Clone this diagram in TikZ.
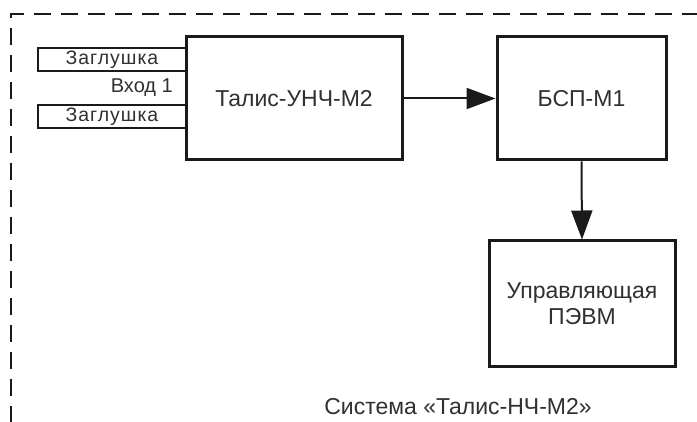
\documentclass[tikz,border=0pt]{standalone}
\usepackage{fontspec}
\setmainfont{Liberation Sans}
\usetikzlibrary{arrows.meta}
\definecolor{txt}{HTML}{303030}
\definecolor{ln}{HTML}{1A1A1A}
\tikzset{
  bigbox/.style={draw=ln, line width=3pt, rectangle, inner sep=0pt, text=txt,
    font=\fontsize{23}{26}\selectfont, align=center},
  plugbox/.style={draw=ln, line width=1.8pt, rectangle, inner sep=0pt, text=txt,
    minimum width=148pt, minimum height=23pt,
    font=\fontsize{19.5}{20}\selectfont\addfontfeature{LetterSpace=5}},
  conn/.style={draw=ln, line width=2pt, -{Triangle[length=29pt,width=21pt]}},
  frame/.style={draw=ln, line width=2pt, dash pattern=on 17pt off 10pt}
}
\begin{document}
\begin{tikzpicture}[x=1pt,y=-1pt]
\useasboundingbox (0,0) rectangle (697,422);
\fill[white] (0,0) rectangle (697,422);
\begin{scope}
\clip (0,0) rectangle (697,422);
\draw[frame] (11,450) -- (11,14) -- (720,14);
\end{scope}
\node[bigbox, minimum width=216pt, minimum height=123pt] (talis) at (294,98.5) {Талис-УНЧ-М2};
\node[bigbox, minimum width=169pt, minimum height=123pt] (bsp) at (581.5,98.5) {БСП-М1};
\node[bigbox, minimum width=186pt, minimum height=126pt] (pevm) at (582,304) {Управляющая\\ПЭВМ};
\node[plugbox] (plugA) at (112,59.5) {Заглушка};
\node[plugbox] (plugB) at (112,116.5) {Заглушка};
\node[text=txt, font=\fontsize{20}{22}\selectfont, anchor=east, inner sep=0pt] (vhod) at (173,88) {Вход 1};
\draw[conn] (talis.east) -- (bsp.west);
\draw[conn] (bsp.south) -- (pevm.north);
\node[text=txt, font=\fontsize{23}{26}\selectfont, anchor=base, inner sep=0pt] (sys) at (458,414) {Система «Талис-НЧ-М2»};
\end{tikzpicture}
\end{document}
